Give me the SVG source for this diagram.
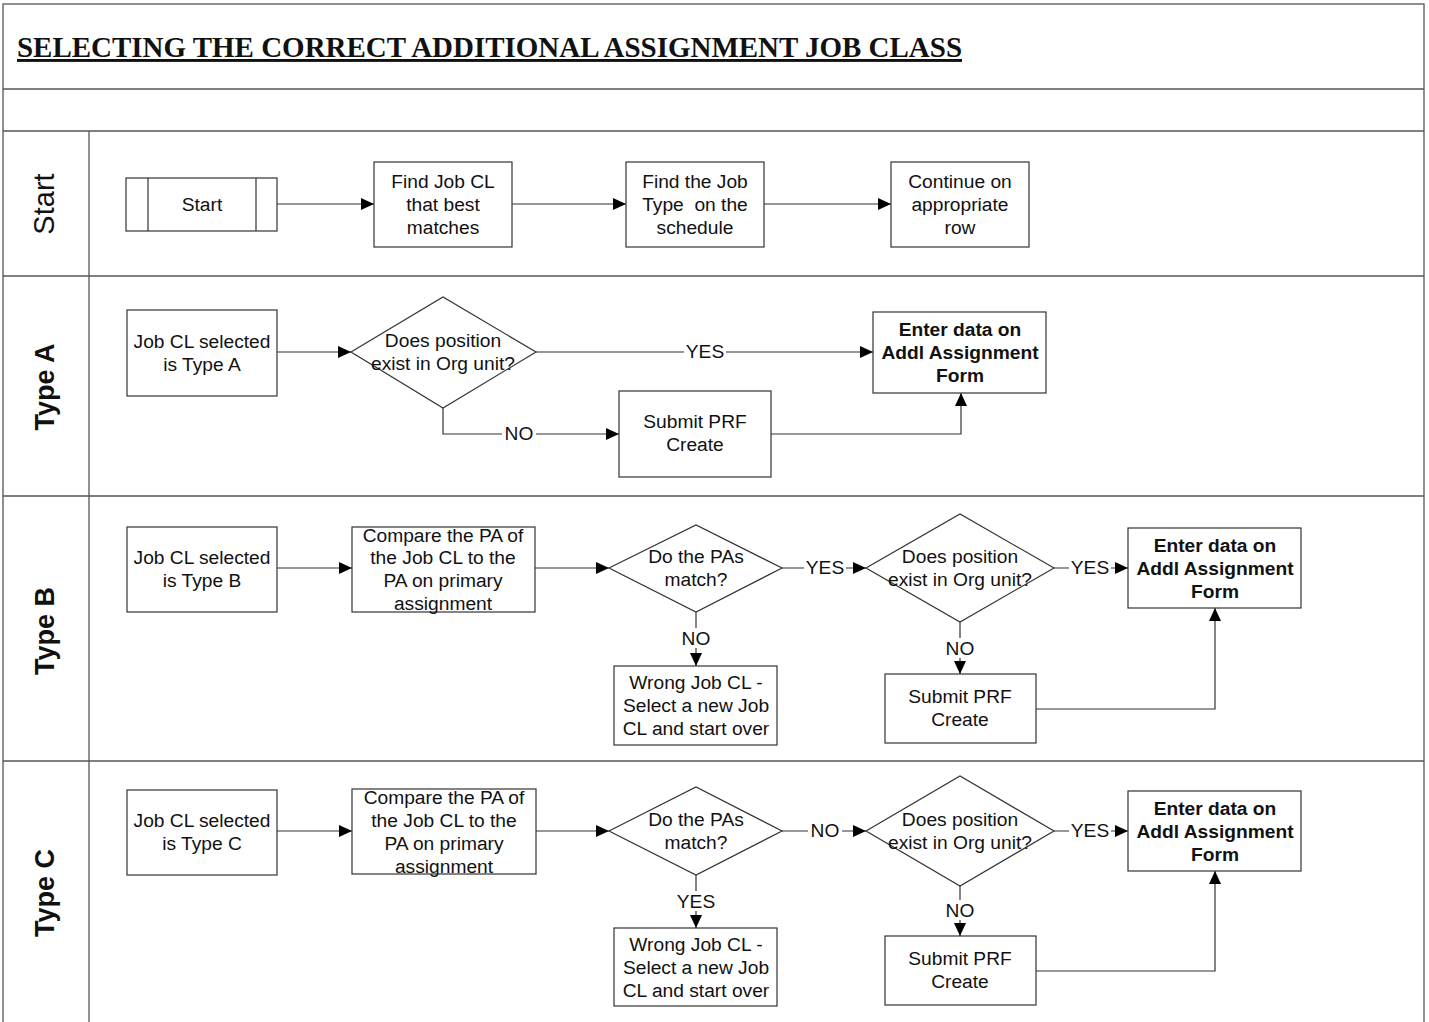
<svg xmlns="http://www.w3.org/2000/svg" width="1429" height="1022" viewBox="0 0 1429 1022">
<defs>
<style>
.frame{fill:none;stroke:#555;stroke-width:1.3}
.box{fill:#fff;stroke:#333;stroke-width:1.2}
.t{font-family:"Liberation Sans",Arial,sans-serif;font-size:19.2px;fill:#111;text-anchor:middle}
.b{font-weight:bold}
.lane{font-family:"Liberation Sans",Arial,sans-serif;font-size:27px;font-weight:bold;fill:#111;text-anchor:middle}
.c{fill:none;stroke:#333;stroke-width:1.2}
.lbl{font-family:"Liberation Sans",Arial,sans-serif;font-size:19.2px;fill:#111;text-anchor:middle}
</style>
<marker id="ah" markerWidth="14" markerHeight="12" refX="13" refY="6" orient="auto" markerUnits="userSpaceOnUse">
<path d="M0,0 L13,6 L0,12 Z" fill="#000"/>
</marker>
</defs>
<rect width="1429" height="1022" fill="#fff"/>
<g id="frame">
<rect class="frame" x="3" y="4" width="1421" height="1030"/>
<line class="frame" x1="3" y1="89" x2="1424" y2="89"/>
<line class="frame" x1="3" y1="131" x2="1424" y2="131"/>
<line class="frame" x1="3" y1="276" x2="1424" y2="276"/>
<line class="frame" x1="3" y1="496" x2="1424" y2="496"/>
<line class="frame" x1="3" y1="761" x2="1424" y2="761"/>
<line class="frame" x1="89" y1="131" x2="89" y2="1022"/>
<text x="17" y="57" font-family="Liberation Serif,Times New Roman,serif" font-size="29" font-weight="bold" text-decoration="underline" textLength="945" lengthAdjust="spacingAndGlyphs" fill="#111">SELECTING THE CORRECT ADDITIONAL ASSIGNMENT JOB CLASS</text>
<text class="lane" font-weight="normal" font-size="29" transform="translate(54,204) rotate(-90)" style="font-weight:normal;font-size:29px">Start</text>
<text class="lane" transform="translate(54,387) rotate(-90)">Type A</text>
<text class="lane" transform="translate(54,631) rotate(-90)">Type B</text>
<text class="lane" transform="translate(54,893) rotate(-90)">Type C</text>
</g>
<g id="connectors">
<line class="c" x1="277" y1="204" x2="374" y2="204" marker-end="url(#ah)"/>
<line class="c" x1="512" y1="204" x2="626" y2="204" marker-end="url(#ah)"/>
<line class="c" x1="764" y1="204" x2="891" y2="204" marker-end="url(#ah)"/>
<line class="c" x1="277" y1="352" x2="351" y2="352" marker-end="url(#ah)"/>
<line class="c" x1="536" y1="352" x2="873" y2="352" marker-end="url(#ah)"/>
<polyline class="c" points="443,408 443,434 619,434" marker-end="url(#ah)"/>
<polyline class="c" points="771,434 961,434 961,393" marker-end="url(#ah)"/>
<line class="c" x1="277" y1="568" x2="352" y2="568" marker-end="url(#ah)"/>
<line class="c" x1="535" y1="568" x2="609" y2="568" marker-end="url(#ah)"/>
<line class="c" x1="782" y1="568" x2="866" y2="568" marker-end="url(#ah)"/>
<line class="c" x1="1054" y1="568" x2="1128" y2="568" marker-end="url(#ah)"/>
<line class="c" x1="696" y1="612" x2="696" y2="666" marker-end="url(#ah)"/>
<line class="c" x1="960" y1="622" x2="960" y2="674" marker-end="url(#ah)"/>
<polyline class="c" points="1036,709 1215,709 1215,608" marker-end="url(#ah)"/>
<line class="c" x1="277" y1="831" x2="352" y2="831" marker-end="url(#ah)"/>
<line class="c" x1="536" y1="831" x2="609" y2="831" marker-end="url(#ah)"/>
<line class="c" x1="782" y1="831" x2="866" y2="831" marker-end="url(#ah)"/>
<line class="c" x1="1054" y1="831" x2="1128" y2="831" marker-end="url(#ah)"/>
<line class="c" x1="696" y1="875" x2="696" y2="928" marker-end="url(#ah)"/>
<line class="c" x1="960" y1="886" x2="960" y2="936" marker-end="url(#ah)"/>
<polyline class="c" points="1036,971 1215,971 1215,871" marker-end="url(#ah)"/>
<g class="labels">
<rect x="684" y="342" width="42" height="20" fill="#fff"/><text class="lbl" x="705" y="358">YES</text>
<rect x="502" y="424" width="34" height="20" fill="#fff"/><text class="lbl" x="519" y="440">NO</text>
<rect x="804" y="558" width="42" height="20" fill="#fff"/><text class="lbl" x="825" y="574">YES</text>
<rect x="1069" y="558" width="42" height="20" fill="#fff"/><text class="lbl" x="1090" y="574">YES</text>
<rect x="679" y="628" width="34" height="20" fill="#fff"/><text class="lbl" x="696" y="645">NO</text>
<rect x="943" y="638" width="34" height="20" fill="#fff"/><text class="lbl" x="960" y="655">NO</text>
<rect x="808" y="821" width="34" height="20" fill="#fff"/><text class="lbl" x="825" y="837">NO</text>
<rect x="1069" y="821" width="42" height="20" fill="#fff"/><text class="lbl" x="1090" y="837">YES</text>
<rect x="675" y="891" width="42" height="20" fill="#fff"/><text class="lbl" x="696" y="908">YES</text>
<rect x="943" y="900" width="34" height="20" fill="#fff"/><text class="lbl" x="960" y="917">NO</text>
</g>
</g>
<g id="n-start">
<rect class="box" x="126" y="178" width="151" height="53"/>
<line class="c" x1="148" y1="178" x2="148" y2="231"/>
<line class="c" x1="256" y1="178" x2="256" y2="231"/>
<text class="t" x="202" y="211">Start</text>
</g>
<g id="n-findcl">
<rect class="box" x="374" y="162" width="138" height="85"/>
<text class="t" x="443" y="188">Find Job CL</text>
<text class="t" x="443" y="211">that best</text>
<text class="t" x="443" y="234">matches</text>
</g>
<g id="n-findtype">
<rect class="box" x="626" y="162" width="138" height="85"/>
<text class="t" x="695" y="188">Find the Job</text>
<text class="t" x="695" y="211" xml:space="preserve">Type  on the</text>
<text class="t" x="695" y="234">schedule</text>
</g>
<g id="n-continue">
<rect class="box" x="891" y="162" width="138" height="85"/>
<text class="t" x="960" y="188">Continue on</text>
<text class="t" x="960" y="211">appropriate</text>
<text class="t" x="960" y="234">row</text>
</g>
<g id="n-a-sel">
<rect class="box" x="127" y="310" width="150" height="86"/>
<text class="t" x="202" y="348">Job CL selected</text>
<text class="t" x="202" y="371">is Type A</text>
</g>
<g id="n-a-dec">
<polygon class="box" points="351,352 443,297 536,352 443,408"/>
<text class="t" x="443" y="347">Does position</text>
<text class="t" x="443" y="370">exist in Org unit?</text>
</g>
<g id="n-a-enter">
<rect class="box" x="873" y="312" width="173" height="81"/>
<text class="t b" x="960" y="336">Enter data on</text>
<text class="t b" x="960" y="359">Addl Assignment</text>
<text class="t b" x="960" y="382">Form</text>
</g>
<g id="n-a-prf">
<rect class="box" x="619" y="391" width="152" height="86"/>
<text class="t" x="695" y="428">Submit PRF</text>
<text class="t" x="695" y="451">Create</text>
</g>
<g id="n-b-sel">
<rect class="box" x="127" y="527" width="150" height="85"/>
<text class="t" x="202" y="564">Job CL selected</text>
<text class="t" x="202" y="587">is Type B</text>
</g>
<g id="n-b-cmp">
<rect class="box" x="352" y="527" width="183" height="85"/>
<text class="t" x="443" y="542">Compare the PA of</text>
<text class="t" x="443" y="564">the Job CL to the</text>
<text class="t" x="443" y="587">PA on primary</text>
<text class="t" x="443" y="610">assignment</text>
</g>
<g id="n-b-pa">
<polygon class="box" points="609,568 696,525 782,568 696,612"/>
<text class="t" x="696" y="563">Do the PAs</text>
<text class="t" x="696" y="586">match?</text>
</g>
<g id="n-b-pos">
<polygon class="box" points="866,568 960,514 1054,568 960,622"/>
<text class="t" x="960" y="563">Does position</text>
<text class="t" x="960" y="586">exist in Org unit?</text>
</g>
<g id="n-b-enter">
<rect class="box" x="1128" y="528" width="173" height="80"/>
<text class="t b" x="1215" y="552">Enter data on</text>
<text class="t b" x="1215" y="575">Addl Assignment</text>
<text class="t b" x="1215" y="598">Form</text>
</g>
<g id="n-b-wrong">
<rect class="box" x="614" y="666" width="163" height="79"/>
<text class="t" x="696" y="689">Wrong Job CL -</text>
<text class="t" x="696" y="712">Select a new Job</text>
<text class="t" x="696" y="735">CL and start over</text>
</g>
<g id="n-b-prf">
<rect class="box" x="885" y="674" width="151" height="69"/>
<text class="t" x="960" y="703">Submit PRF</text>
<text class="t" x="960" y="726">Create</text>
</g>
<g id="n-c-sel">
<rect class="box" x="127" y="790" width="150" height="85"/>
<text class="t" x="202" y="827">Job CL selected</text>
<text class="t" x="202" y="850">is Type C</text>
</g>
<g id="n-c-cmp">
<rect class="box" x="352" y="789" width="184" height="85"/>
<text class="t" x="444" y="804">Compare the PA of</text>
<text class="t" x="444" y="827">the Job CL to the</text>
<text class="t" x="444" y="850">PA on primary</text>
<text class="t" x="444" y="873">assignment</text>
</g>
<g id="n-c-pa">
<polygon class="box" points="609,831 696,787 782,831 696,875"/>
<text class="t" x="696" y="826">Do the PAs</text>
<text class="t" x="696" y="849">match?</text>
</g>
<g id="n-c-pos">
<polygon class="box" points="866,831 960,776 1054,831 960,886"/>
<text class="t" x="960" y="826">Does position</text>
<text class="t" x="960" y="849">exist in Org unit?</text>
</g>
<g id="n-c-enter">
<rect class="box" x="1128" y="791" width="173" height="80"/>
<text class="t b" x="1215" y="815">Enter data on</text>
<text class="t b" x="1215" y="838">Addl Assignment</text>
<text class="t b" x="1215" y="861">Form</text>
</g>
<g id="n-c-wrong">
<rect class="box" x="614" y="928" width="163" height="78"/>
<text class="t" x="696" y="951">Wrong Job CL -</text>
<text class="t" x="696" y="974">Select a new Job</text>
<text class="t" x="696" y="997">CL and start over</text>
</g>
<g id="n-c-prf">
<rect class="box" x="885" y="936" width="151" height="69"/>
<text class="t" x="960" y="965">Submit PRF</text>
<text class="t" x="960" y="988">Create</text>
</g>
</svg>
